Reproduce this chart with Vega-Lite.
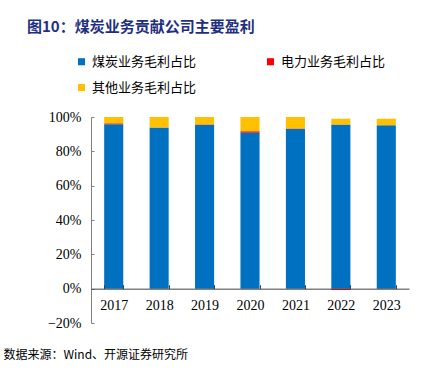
{
  "$schema": "https://vega.github.io/schema/vega-lite/v6.json",
  "width": 318,
  "height": 206,
  "autosize": {"type": "none"},
  "padding": {"left": 91, "top": 117, "right": 33, "bottom": 47},
  "background": "white",
  "title": {
    "text": "图10：煤炭业务贡献公司主要盈利",
    "anchor": "start",
    "frame": "group",
    "dx": -64,
    "offset": 20,
    "font": "Noto Sans CJK SC",
    "fontSize": 15,
    "fontWeight": "bold",
    "color": "#1F2F7F"
  },
  "config": {
    "view": {"stroke": null},
    "axis": {"grid": false}
  },
  "data": {
    "values": [
      {"year": "2017", "series": "煤炭业务毛利占比", "k": 1, "value": 0.958},
      {"year": "2017", "series": "电力业务毛利占比", "k": 2, "value": 0.005},
      {"year": "2017", "series": "其他业务毛利占比", "k": 3, "value": 0.037},
      {"year": "2018", "series": "煤炭业务毛利占比", "k": 1, "value": 0.939},
      {"year": "2018", "series": "电力业务毛利占比", "k": 2, "value": 0.0},
      {"year": "2018", "series": "其他业务毛利占比", "k": 3, "value": 0.061},
      {"year": "2019", "series": "煤炭业务毛利占比", "k": 1, "value": 0.954},
      {"year": "2019", "series": "电力业务毛利占比", "k": 2, "value": 0.003},
      {"year": "2019", "series": "其他业务毛利占比", "k": 3, "value": 0.043},
      {"year": "2020", "series": "煤炭业务毛利占比", "k": 1, "value": 0.909},
      {"year": "2020", "series": "电力业务毛利占比", "k": 2, "value": 0.008},
      {"year": "2020", "series": "其他业务毛利占比", "k": 3, "value": 0.083},
      {"year": "2021", "series": "煤炭业务毛利占比", "k": 1, "value": 0.930},
      {"year": "2021", "series": "电力业务毛利占比", "k": 2, "value": 0.003},
      {"year": "2021", "series": "其他业务毛利占比", "k": 3, "value": 0.067},
      {"year": "2022", "series": "煤炭业务毛利占比", "k": 1, "value": 0.956},
      {"year": "2022", "series": "电力业务毛利占比", "k": 2, "value": -0.008},
      {"year": "2022", "series": "其他业务毛利占比", "k": 3, "value": 0.034},
      {"year": "2023", "series": "煤炭业务毛利占比", "k": 1, "value": 0.952},
      {"year": "2023", "series": "电力业务毛利占比", "k": 2, "value": -0.001},
      {"year": "2023", "series": "其他业务毛利占比", "k": 3, "value": 0.038}
    ]
  },
  "mark": {"type": "bar"},
  "encoding": {
    "x": {
      "field": "year",
      "type": "ordinal",
      "scale": {"paddingInner": 0.58, "paddingOuter": 0.29},
      "axis": {
        "title": "数据来源：Wind、开源证券研究所",
        "titleX": -88,
        "titleY": 66,
        "titleAlign": "left",
        "titleBaseline": "middle",
        "titleFont": "Noto Sans CJK SC",
        "titleFontSize": 12,
        "titleFontWeight": "normal",
        "titleColor": "#000000",
        "offset": -34.33,
        "labelAngle": 0,
        "labelFont": "Liberation Serif",
        "labelFontSize": 14,
        "labelColor": "#000000",
        "labelPadding": 14,
        "tickBand": "extent",
        "tickSize": -4,
        "tickColor": "#404040",
        "domainColor": "#404040",
        "zindex": 1
      }
    },
    "y": {
      "field": "value",
      "type": "quantitative",
      "stack": "zero",
      "scale": {"domain": [-0.2, 1], "nice": false},
      "axis": {
        "title": null,
        "values": [-0.2, 0, 0.2, 0.4, 0.6, 0.8, 1],
        "format": ".0%",
        "labelFont": "Liberation Serif",
        "labelFontSize": 14,
        "labelColor": "#000000",
        "labelPadding": 13,
        "tickSize": -3,
        "tickColor": "#808080",
        "domainColor": "#808080"
      }
    },
    "color": {
      "field": "series",
      "type": "nominal",
      "scale": {
        "domain": ["煤炭业务毛利占比", "电力业务毛利占比", "其他业务毛利占比"],
        "range": ["#0070C0", "#FF0000", "#FFC000"]
      },
      "legend": {
        "title": null,
        "orient": "none",
        "legendX": -16,
        "legendY": -62,
        "direction": "horizontal",
        "columns": 2,
        "columnPadding": 67,
        "rowPadding": 12,
        "symbolType": "square",
        "symbolSize": 50,
        "symbolStrokeWidth": 0,
        "labelFont": "Noto Sans CJK SC",
        "labelFontSize": 13,
        "labelColor": "#000000",
        "labelOffset": 4
      }
    },
    "order": {"field": "k", "type": "quantitative"}
  }
}
